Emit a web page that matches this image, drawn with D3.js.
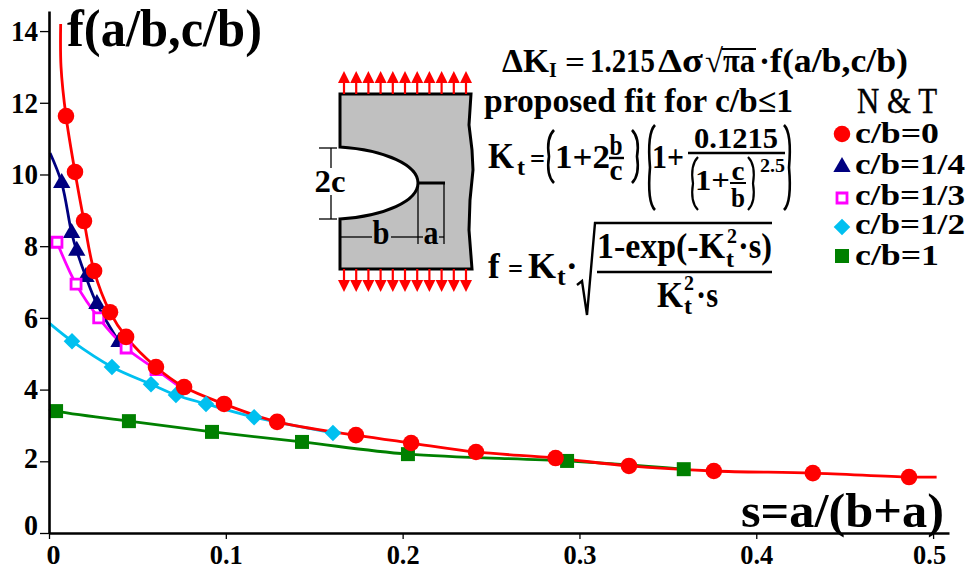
<!DOCTYPE html>
<html>
<head>
<meta charset="utf-8">
<script src="https://cdn.jsdelivr.net/npm/d3@7"></script>
<style>
  html, body { margin: 0; padding: 0; background: #fff; }
  text { font-family: "Liberation Serif", serif; font-weight: bold; fill: #000; }
</style>
</head>
<body>
<svg id="chart" width="968" height="570"></svg>
<script>
const xTicks = [0, 0.1, 0.2, 0.3, 0.4, 0.5]
const xLabels = ['0', '0.1', '0.2', '0.3', '0.4', '0.5']
const yTicks = [0, 2, 4, 6, 8, 10, 12, 14]

// markers first, then the bits of line past the markers
const redS = [.0096, .0147, .0198, .0255, .0345, .0436, .0605, .0764, .099, .129, .1736, .2048, .2415, .2865, .328, .376, .432, .4864]
const redF = [11.63, 10.07, 8.70, 7.31, 6.16, 5.47, 4.63, 4.07, 3.60, 3.10, 2.73, 2.51, 2.26, 2.09, 1.87, 1.73, 1.67, 1.56]
const redHeadS = [.0066, .0068], redHeadF = [14.2, 13.0], redTailS = [.502], redTailF = [1.56]

const navyS = [.0072, .0128, .0157, .0209, .0271, .0396]
const navyF = [9.76, 8.37, 7.87, 7.14, 6.39, 5.33]
const navyHeadS = [.0006], navyHeadF = [10.6], navyTailS = [], navyTailF = []

const pinkS = [.0045, .0153, .0281, .0436, .0605]
const pinkF = [8.11, 6.94, 6.0, 5.16, 4.56]
const pinkHeadS = [], pinkHeadF = [], pinkTailS = [.0724], pinkTailF = [4.13]

const cyanS = [.013, .0356, .0577, .0718, .0888, .116, .1606]
const cyanF = [5.35, 4.63, 4.15, 3.85, 3.60, 3.23, 2.79]
const cyanHeadS = [0], cyanHeadF = [5.86], cyanTailS = [], cyanTailF = []

const greenS = [.004, .0452, .0922, .1431, .203, .293, .359]
const greenF = [3.40, 3.12, 2.82, 2.54, 2.20, 2.01, 1.78]
const greenHeadS = [0], greenHeadF = [3.46], greenTailS = [], greenTailF = []

const legendLabels = ['c/b=0', 'c/b=1/4', 'c/b=1/3', 'c/b=1/2', 'c/b=1']

const svg = d3.select('#chart')
const x = d3.scaleLinear().domain([0, 0.509]).range([49, 949])
const y = d3.scaleLinear().domain([0, 14.56]).range([533, 11])

const RED = '#ff0000', NAVY = '#000080', PINK = '#ff00ff', CYAN = '#00c0f0', GREEN = '#008000'

const zip = (a, b) => a.map((v, i) => [v, b[i]])

// draw order matters, red sits on top of everything
const series = [
  { s: greenS, f: greenF, hs: greenHeadS, hf: greenHeadF, ts: greenTailS, tf: greenTailF, color: GREEN, sym: d3.symbolSquare, size: 196 },
  { s: cyanS, f: cyanF, hs: cyanHeadS, hf: cyanHeadF, ts: cyanTailS, tf: cyanTailF, color: CYAN, sym: d3.symbolDiamond2, size: 175 },
  { s: navyS, f: navyF, hs: navyHeadS, hf: navyHeadF, ts: navyTailS, tf: navyTailF, color: NAVY, sym: d3.symbolTriangle, size: 130 },
  { s: pinkS, f: pinkF, hs: pinkHeadS, hf: pinkHeadF, ts: pinkTailS, tf: pinkTailF, color: PINK, sym: d3.symbolSquare, size: 100, open: true },
  { s: redS, f: redF, hs: redHeadS, hf: redHeadF, ts: redTailS, tf: redTailF, color: RED, sym: d3.symbolCircle, size: 215 }
]

const line = d3.line().x(d => x(d[0])).y(d => y(d[1])).curve(d3.curveCatmullRom)

series.forEach(d => {
  svg.append('path')
    .attr('d', line(zip(d.hs, d.hf).concat(zip(d.s, d.f), zip(d.ts, d.tf))))
    .attr('fill', 'none')
    .attr('stroke', d.color)
    .attr('stroke-width', 2.8)
})

const drawMarker = (g, d, px, py) => {
  g.append('path')
    .attr('d', d3.symbol().type(d.sym).size(d.size)())
    .attr('transform', `translate(${px},${py})`)
    .attr('fill', d.open ? '#fff' : d.color)
    .attr('stroke', d.open ? d.color : 'none')
    .attr('stroke-width', d.open ? 2.8 : 0)
}

series.forEach(d => {
  zip(d.s, d.f).forEach(p => drawMarker(svg, d, x(p[0]), y(p[1])))
})

// axes
const xAxis = d3.axisBottom(x).tickValues(xTicks).tickFormat((d, i) => xLabels[i]).tickSize(6).tickSizeOuter(0).tickPadding(5)
const yAxis = d3.axisLeft(y).tickValues(yTicks).tickSize(9).tickSizeOuter(0).tickPadding(2)

const gx = svg.append('g').attr('transform', 'translate(0,533)').call(xAxis)
const gy = svg.append('g').attr('transform', 'translate(49,0)').call(yAxis)

gx.select('.domain').attr('stroke', '#000').attr('stroke-width', 2.6)
gy.select('.domain').attr('stroke', '#000').attr('stroke-width', 2.6)
gx.selectAll('.tick line').attr('stroke', '#000').attr('stroke-width', 1.3)
gy.selectAll('.tick line').attr('stroke', '#000').attr('stroke-width', 1.3)
gx.selectAll('text').style('font-family', '"Liberation Serif", serif').style('font-weight', 'bold').style('font-size', '28px')
  .attr('dx', d => d === 0 ? 4 : (d === 0.5 ? -4 : 0))
  .attr('textLength', d => d === 0 ? 14 : 33).attr('lengthAdjust', 'spacingAndGlyphs')
gy.selectAll('text').style('font-family', '"Liberation Serif", serif').style('font-weight', 'bold').style('font-size', '29px')
  .attr('dy', d => d === 0 ? '0.04em' : (d === 2 ? '0.22em' : '0.32em'))
  .attr('textLength', d => d >= 10 ? 27 : 14).attr('lengthAdjust', 'spacingAndGlyphs')

// text helper, width squeezes it to what the picture has
const label = (px, py, str, size, width, anchor) => {
  const t = svg.append('text').attr('x', px).attr('y', py).text(str)
    .style('font-size', size + 'px').attr('text-anchor', anchor || 'start')
  if (width) t.attr('textLength', width).attr('lengthAdjust', 'spacingAndGlyphs')
  return t
}
const rule = (x1, y1, x2, y2, w, color) => svg.append('line')
  .attr('x1', x1).attr('y1', y1).attr('x2', x2).attr('y2', y2)
  .attr('stroke', color || '#000').attr('stroke-width', w)

label(67, 46, 'f(a/b,c/b)', 52, 195)
label(741, 527, 's=a/(b+a)', 48, 203)

// plate sketch
const plate = d3.path()
plate.moveTo(340, 94)
plate.lineTo(471, 94)
;[[469, 125], [472, 150], [473, 170], [470, 200], [469, 230], [472, 269]].forEach(p => plate.lineTo(p[0], p[1]))
plate.lineTo(340, 269)
plate.lineTo(340, 219)
plate.bezierCurveTo(385, 216, 418, 201, 418, 183)
plate.bezierCurveTo(418, 165, 385, 150, 340, 147)
plate.closePath()
svg.append('path').attr('d', plate.toString()).attr('fill', '#c0c0c0').attr('stroke', '#000').attr('stroke-width', 3)

rule(418, 183, 445, 183, 3)
rule(444, 183, 444, 244, 1.3)
rule(418, 183, 418, 244, 1.3)
rule(319, 148, 337, 148, 1.3)
rule(319, 219, 337, 219, 1.3)
rule(331, 148, 331, 168, 1.3)
rule(331, 195, 331, 219, 1.3)
rule(340, 237, 372, 237, 1.3)
rule(391, 237, 423, 237, 1.3)
rule(439, 237, 444, 237, 1.3)
label(330, 192, '2c', 31, 31, 'middle')
label(381, 244, 'b', 33, 17, 'middle')
label(431, 244, 'a', 33, 15, 'middle')

// load arrows
d3.range(11).forEach(i => {
  const ax = 344 + i * 12.2
  rule(ax, 82, ax, 94, 2.2, RED)
  rule(ax, 269, ax, 281, 2.2, RED)
  svg.append('path').attr('d', `M${ax},71L${ax + 6},83L${ax - 6},83Z`).attr('fill', RED)
  svg.append('path').attr('d', `M${ax},292L${ax + 6},280L${ax - 6},280Z`).attr('fill', RED)
})

// formulas
label(502, 72, 'ΔK', 33, 47)
label(549, 77, 'I', 20)
label(565, 72, '=', 30, 20)
label(590, 72, '1.215', 33, 65)
label(658, 72, 'Δσ', 33, 45)
label(705, 72, '√', 33, 18)
rule(722, 49, 756, 49, 2)
label(723, 72, 'πa', 33, 32)
label(759, 72, '·', 33)
label(770, 72, 'f(a/b,c/b)', 33, 138)
label(484, 112, 'proposed fit for c/b≤1', 33, 309)

label(488, 168, 'K', 35, 26)
label(517, 175, 't', 24)
label(530, 168, '=', 28, 15)
label(555, 168, '1+2', 34, 55)
label(616, 155, 'b', 30, 13, 'middle')
rule(609, 158, 624, 158, 2.4)
label(616, 180, 'c', 30, 13, 'middle')
label(652, 168, '1+', 34, 32)
label(736, 148, '0.1215', 30, 84, 'middle')
rule(688, 153, 785, 153, 2.4)
label(695, 190, '1+', 30, 35)
label(738, 180, 'c', 28, 13, 'middle')
rule(730, 183, 746, 183, 2)
label(738, 207, 'b', 28, 14, 'middle')
label(760, 172, '2.5', 19, 25)

// stretched brackets
const bracket = (px, top, bottom, dir, w) => {
  const p = d3.path()
  p.moveTo(px + dir * 5, top)
  p.quadraticCurveTo(px - dir * 3, top + 8, px, (top + bottom) / 2)
  p.quadraticCurveTo(px - dir * 3, bottom - 8, px + dir * 5, bottom)
  svg.append('path').attr('d', p.toString()).attr('fill', 'none').attr('stroke', '#000').attr('stroke-width', w || 2.6)
}
bracket(549, 130, 183, 1)
bracket(637, 130, 183, -1)
bracket(650, 125, 210, 1)
bracket(789, 125, 210, -1)
bracket(693, 157, 210, 1, 2.2)
bracket(753, 157, 210, -1, 2.2)

label(488, 278, 'f', 35)
label(508, 278, '=', 28, 15)
label(528, 278, 'K', 35, 28)
label(557, 285, 't', 26)
label(566, 278, '·', 35)
svg.append('path').attr('d', 'M577,285L582,281L587,315L595,223L772,223').attr('fill', 'none').attr('stroke', '#000').attr('stroke-width', 2.4)
label(597, 258, '1-exp(-K', 35, 128)
label(727, 243, '2', 20)
label(726, 267, 't', 24)
label(738, 258, '·s)', 35, 34)
rule(597, 272, 772, 272, 2.4)
label(657, 307, 'K', 35, 26)
label(684, 290, '2', 20)
label(684, 314, 't', 24)
label(696, 307, '·s', 35, 22)

// legend
label(857, 113, 'N & T', 36, 80).style('font-weight', 'normal').style('stroke', '#000').style('stroke-width', 0.4)
const legendRows = [134, 167, 198, 227, 256]
const legendBase = [143, 174, 205, 234, 265]
const legendOrder = [4, 2, 3, 1, 0]
legendLabels.forEach((txt, i) => {
  drawMarker(svg, series[legendOrder[i]], 842, legendRows[i])
  label(855, legendBase[i], txt, 30, txt.length > 5 ? 110 : 84)
})
</script>
</body>
</html>
